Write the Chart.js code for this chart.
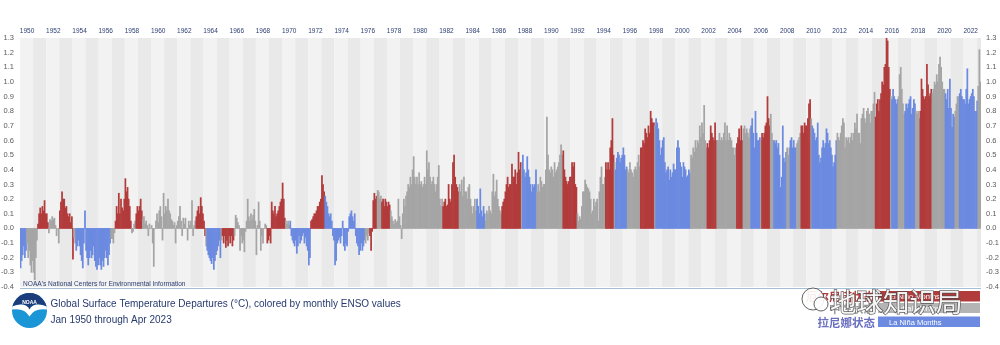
<!DOCTYPE html>
<html>
<head>
<meta charset="utf-8">
<title>Global Surface Temperature Departures</title>
<script src="https://cdn.jsdelivr.net/npm/chart.js@4.4.0/dist/chart.umd.min.js"></script>
<style>
  html, body { margin: 0; padding: 0; background: #fff; }
  canvas { display: block; }
</style>
</head>
<body>
<canvas id="chart" width="1000" height="345"></canvas>
<script>
// Monthly global surface temperature departures (°C), Jan 1950 - Apr 2023, one row per year
const firstYear = 1950;
const anomalies = [
  -0.27,-0.22,-0.18,-0.12,-0.2,-0.15,-0.1,-0.2,-0.15,-0.25,-0.3,-0.22,   // 1950
  -0.3,-0.35,-0.2,-0.08,0.03,0.1,0.14,0.1,0.15,0.12,0.19,0.1,           // 1951
  0.1,0.04,-0.03,0.06,0.05,0.08,0.06,0.07,0.02,-0.05,0.0,-0.1,          // 1952
  0.12,0.18,0.25,0.2,0.2,0.14,0.15,0.1,0.08,0.1,0.04,0.08,              // 1953
  -0.21,-0.06,-0.1,-0.15,-0.12,-0.08,-0.12,-0.18,-0.22,-0.27,-0.1,0.12, // 1954
  -0.15,-0.2,-0.25,-0.2,-0.15,-0.2,-0.18,-0.12,-0.22,-0.26,-0.28,-0.25, // 1955
  -0.2,-0.25,-0.28,-0.22,-0.26,-0.2,-0.15,-0.2,-0.25,-0.18,-0.1,-0.07,  // 1956
  -0.07,-0.1,-0.03,0.05,0.15,0.1,0.24,0.1,0.2,0.14,0.12,0.2,            // 1957
  0.34,0.25,0.28,0.2,0.15,0.05,-0.03,-0.02,0.03,0.05,0.1,0.15,          // 1958
  0.12,0.15,0.2,0.12,0.06,0.08,0.03,0.05,0.02,-0.05,0.03,0.0,           // 1959
  0.02,-0.1,-0.26,0.0,0.05,0.1,0.04,0.12,0.15,0.08,-0.08,0.24,          // 1960
  0.1,0.15,0.12,0.2,0.12,0.1,0.06,0.05,0.02,0.04,-0.1,0.02,             // 1961
  0.05,0.08,0.15,0.05,-0.05,0.07,0.03,0.07,0.0,-0.08,0.05,0.02,         // 1962
  0.05,0.19,-0.05,0.02,0.05,0.08,0.12,0.15,0.1,0.21,0.15,0.1,           // 1963
  0.05,-0.05,-0.12,-0.15,-0.18,-0.2,-0.22,-0.24,-0.2,-0.28,-0.22,-0.18, // 1964
  -0.15,-0.12,-0.08,-0.2,-0.08,-0.05,-0.1,-0.05,-0.13,-0.08,-0.12,-0.05,// 1965
  -0.1,-0.05,-0.12,-0.08,-0.05,0.09,0.07,0.04,0.02,-0.15,-0.05,-0.1,    // 1966
  -0.08,-0.16,-0.02,0.05,0.2,0.08,0.05,0.1,0.06,0.09,0.13,0.05,         // 1967
  -0.18,0.02,0.18,0.05,-0.15,-0.05,-0.1,0.0,0.03,0.02,-0.1,-0.08,       // 1968
  -0.05,-0.1,0.18,0.12,0.1,0.15,0.08,0.1,0.12,0.15,0.18,0.2,            // 1969
  0.31,0.2,0.07,0.05,0.03,0.05,0.02,0.05,-0.05,-0.08,-0.1,-0.12,        // 1970
  -0.08,-0.17,-0.12,-0.05,-0.1,-0.08,-0.05,-0.03,-0.1,-0.06,-0.12,-0.15,// 1971
  -0.25,-0.2,0.05,0.06,0.08,0.1,0.1,0.12,0.15,0.15,0.18,0.2,            // 1972
  0.36,0.3,0.25,0.22,0.18,0.15,0.1,0.08,0.1,0.05,-0.05,-0.08,           // 1973
  -0.25,-0.22,-0.1,-0.08,-0.06,-0.1,-0.05,0.05,-0.12,-0.15,-0.1,-0.12,  // 1974
  -0.02,0.08,0.1,0.12,0.08,0.05,0.1,-0.05,-0.1,-0.12,-0.18,-0.15,       // 1975
  -0.1,-0.15,-0.12,-0.08,-0.1,-0.05,-0.08,-0.03,-0.05,-0.15,-0.02,0.19, // 1976
  0.24,0.2,0.22,0.26,0.25,0.2,0.22,0.18,0.2,0.15,0.2,0.18,              // 1977
  0.15,0.18,0.16,0.12,0.08,0.05,0.03,0.06,0.04,0.05,0.2,0.08,           // 1978
  0.02,-0.07,0.1,0.2,0.15,0.22,0.25,0.3,0.28,0.35,0.3,0.4,              // 1979
  0.49,0.35,0.3,0.35,0.3,0.38,0.3,0.32,0.28,0.3,0.35,0.3,               // 1980
  0.53,0.4,0.45,0.35,0.3,0.32,0.35,0.3,0.25,0.3,0.35,0.43,              // 1981
  0.2,0.15,0.2,0.15,0.18,0.2,0.15,0.16,0.3,0.2,0.18,0.3,                // 1982
  0.45,0.5,0.35,0.3,0.28,0.25,0.3,0.25,0.33,0.22,0.35,0.25,             // 1983
  0.25,0.2,0.28,0.3,0.2,0.15,0.1,0.15,0.2,0.12,0.2,0.15,                // 1984
  0.1,0.27,0.12,0.08,0.15,0.1,0.05,0.12,0.1,0.15,0.12,0.1,              // 1985
  0.25,0.37,0.22,0.25,0.33,0.2,0.15,0.12,0.1,0.15,0.18,0.2,             // 1986
  0.25,0.3,0.35,0.28,0.3,0.3,0.44,0.35,0.35,0.4,0.3,0.38,               // 1987
  0.52,0.4,0.45,0.42,0.5,0.4,0.35,0.38,0.49,0.4,0.35,0.3,               // 1988
  0.25,0.3,0.28,0.3,0.4,0.25,0.3,0.25,0.35,0.32,0.28,0.3,               // 1989
  0.3,0.4,0.76,0.5,0.4,0.38,0.42,0.4,0.35,0.45,0.38,0.4,                // 1990
  0.42,0.45,0.5,0.57,0.5,0.53,0.4,0.35,0.32,0.3,0.32,0.35,              // 1991
  0.35,0.45,0.42,0.45,0.3,0.28,0.1,0.05,0.08,0.06,0.15,0.25,            // 1992
  0.25,0.33,0.3,0.28,0.27,0.25,0.2,0.1,0.12,0.2,0.15,0.18,              // 1993
  0.2,0.05,0.25,0.35,0.42,0.3,0.3,0.35,0.45,0.4,0.45,0.4,               // 1994
  0.55,0.6,0.75,0.5,0.45,0.4,0.48,0.52,0.5,0.45,0.48,0.5,               // 1995
  0.55,0.5,0.4,0.42,0.4,0.38,0.45,0.4,0.38,0.35,0.4,0.42,               // 1996
  0.4,0.45,0.5,0.42,0.55,0.55,0.6,0.58,0.68,0.65,0.62,0.7,              // 1997
  0.65,0.8,0.75,0.72,0.72,0.7,0.75,0.72,0.68,0.6,0.5,0.55,              // 1998
  0.6,0.62,0.45,0.38,0.4,0.42,0.33,0.4,0.35,0.38,0.44,0.4,              // 1999
  0.4,0.55,0.6,0.55,0.45,0.42,0.35,0.45,0.42,0.4,0.35,0.36,             // 2000
  0.4,0.38,0.5,0.48,0.55,0.52,0.6,0.55,0.6,0.58,0.7,0.62,               // 2001
  0.72,0.65,0.84,0.6,0.55,0.58,0.55,0.6,0.7,0.65,0.62,0.6,              // 2002
  0.72,0.6,0.6,0.6,0.65,0.6,0.62,0.6,0.65,0.72,0.6,0.7,                 // 2003
  0.6,0.65,0.62,0.6,0.55,0.55,0.5,0.55,0.58,0.62,0.68,0.6,              // 2004
  0.7,0.6,0.68,0.7,0.65,0.68,0.65,0.62,0.68,0.7,0.75,0.65,              // 2005
  0.55,0.8,0.65,0.6,0.6,0.62,0.6,0.65,0.62,0.65,0.7,0.72,               // 2006
  0.9,0.75,0.7,0.78,0.65,0.6,0.6,0.58,0.6,0.55,0.58,0.5,                // 2007
  0.28,0.35,0.7,0.48,0.45,0.52,0.55,0.5,0.55,0.6,0.62,0.55,             // 2008
  0.6,0.55,0.55,0.58,0.6,0.62,0.65,0.7,0.7,0.65,0.72,0.7,               // 2009
  0.7,0.75,0.85,0.88,0.75,0.7,0.68,0.65,0.6,0.62,0.72,0.5,              // 2010
  0.45,0.48,0.55,0.6,0.55,0.58,0.68,0.65,0.58,0.6,0.55,0.5,             // 2011
  0.42,0.45,0.5,0.6,0.65,0.62,0.6,0.65,0.7,0.75,0.72,0.55,              // 2012
  0.62,0.6,0.62,0.58,0.62,0.65,0.6,0.65,0.72,0.68,0.78,0.65,            // 2013
  0.65,0.58,0.75,0.78,0.82,0.75,0.72,0.8,0.82,0.78,0.72,0.8,            // 2014
  0.8,0.85,0.93,0.76,0.85,0.88,0.8,0.88,0.92,1.0,0.98,1.1,              // 2015
  1.12,1.3,1.28,1.1,0.95,0.9,0.88,0.95,0.9,0.88,0.85,0.88,              // 2016
  0.9,1.05,1.1,0.95,0.85,0.78,0.8,0.85,0.82,0.85,0.88,0.9,              // 2017
  0.78,0.82,0.88,0.85,0.8,0.78,0.8,0.75,0.8,1.02,0.95,0.9,              // 2018
  0.88,0.9,1.12,0.98,0.9,0.92,0.95,0.92,0.95,1.0,0.98,1.05,             // 2019
  1.0,1.12,1.17,1.1,1.0,0.95,0.95,0.92,0.88,0.95,0.82,1.02,             // 2020
  0.82,0.69,0.78,0.76,0.8,0.85,0.9,0.9,0.92,0.95,0.9,0.88,              // 2021
  0.88,0.85,0.95,1.09,0.85,0.88,0.9,0.92,0.95,0.9,0.8,0.8,              // 2022
  0.87,0.97,1.22,1.0                                                   // 2023
];

// ENSO state per month: E = El Niño, N = neutral, L = La Niña
const ensoPhase = [
  "LLLLLLNNNNNN", "NNNNEEEEEEEE", "EENNNNNNNNNN", "EEEEEEEEEEEE", "ENNLLLLLLLLL", // 1950-54
  "LLLLLLLLLLLL", "LLLLLLLLLLLN", "NNNEEEEEEEEE", "EEEEEENNNNEE", "EEEENNNNNNNN", // 1955-59
  "NNNNNNNNNNNN", "NNNNNNNNNNNN", "NNNNNNNNNNNN", "NNNNNEEEEEEE", "EENLLLLLLLLL", // 1960-64
  "LLLLNEEEEEEE", "EEEENNNNNNNN", "NNNNNNNNNNNN", "NNNNNNNNNNEE", "EEEEEEEEEEEE", // 1965-69
  "EEENNNNLLLLL", "LLLLLLLLLLLL", "LLEEEEEEEEEE", "EEELLLLLLLLL", "LLLLLLLLLLLL", // 1970-74
  "LLLLLLLLLLLL", "LLLLNNNNEEEE", "EEENNNNEEEEE", "EEENNNNNNNNN", "NNNNNNNNNNNN", // 1975-79
  "NNNNNNNNNNNN", "NNNNNNNNNNNN", "NNNEEEEEEEEE", "EEEEEENNNNNN", "NNNNNNNNNNLL", // 1980-84
  "LLLLLLNNNNNN", "NNNNNNNNNEEE", "EEEEEEEEEEEE", "EEENLLLLLLLL", "LLLLLNNNNNNN", // 1985-89
  "NNNNNNNNNNNN", "NNNNNEEEEEEE", "EEEEEENNNNNN", "NNNNNNNNNNNN", "NNNNNNNNEEEE", // 1990-94
  "EEEENLLLLLLL", "LLLLNNNNNNNN", "NNNNEEEEEEEE", "EEEEENLLLLLL", "LLLLLLLLLLLL", // 1995-99
  "LLLLLLLLLLLL", "LLNNNNNNNNNN", "NNNNNEEEEEEE", "EENNNNNNNNNN", "NNNNNNNNEEEE", // 2000-04
  "EENNNNNNNLLL", "LLLLLLNEEEEE", "EEENNNLLLLLL", "LLLLLLNNNLLL", "LLLNNNNEEEEE", // 2005-09
  "EEEENLLLLLLL", "LLLLLLLLLLLL", "LLLLNNNNNNNN", "NNNNNNNNNNNN", "NNNNNNNNNNNN", // 2010-14
  "NNNEEEEEEEEE", "EEEEENLLLLLL", "NNNNNNLLLLLL", "LLLLNNNNEEEE", "EEEEEEENNNNN", // 2015-19
  "NNNNNNNLLLLL", "LLLLNNNNLLLL", "LLLLLLLLLLLL", "LNNN"                          // 2020-23
];

const phaseColors = { E: '#b23b3b', N: '#a5a5a5', L: '#6b8ae0' };
const legendItems = [
  { zh: '厄尔尼诺状态', en: 'El Niño Months', color: '#b23b3b', text: '#b23b3b' },
  { zh: '中性状态', en: 'Neutral Months', color: '#b4b4b4', text: '#9a9a9a' },
  { zh: '拉尼娜状态', en: 'La Niña Months', color: '#6b8ae0', text: '#6a6fc0' }
];

const phases = ensoPhase.join('').split('');
const monthLabels = anomalies.map((v, i) => (firstYear + Math.floor(i / 12)) + '-' + String(i % 12 + 1).padStart(2, '0'));
const barColors = phases.map(p => phaseColors[p]);
const yearCount = Math.ceil(anomalies.length / 12);
const FONT = '"Liberation Sans", Arial, Helvetica, sans-serif';

// alternating year bands behind the bars
const yearBands = {
  id: 'yearBands',
  beforeDatasetsDraw(chart) {
    const { ctx, chartArea: a, scales: { x } } = chart;
    const step = x.getPixelForValue(1) - x.getPixelForValue(0);
    ctx.save();
    for (let y = 0; y < yearCount; y++) {
      const left = x.getPixelForValue(y * 12) - step / 2;
      const right = Math.min(x.getPixelForValue(y * 12 + 12) - step / 2, a.right);
      ctx.fillStyle = y % 2 === 0 ? '#f2f2f2' : '#e9e9e9';
      ctx.fillRect(left, a.top, right - left, a.bottom - a.top);
    }
    ctx.restore();
  }
};

function drawLogo(ctx, cx, cy, r) {
  ctx.save();
  ctx.beginPath();
  ctx.arc(cx, cy, r, 0, Math.PI * 2);
  ctx.clip();
  ctx.fillStyle = '#1a95d5';
  ctx.fillRect(cx - r, cy - r, r * 2, r * 2);
  ctx.fillStyle = '#1c3d7c';
  ctx.beginPath();
  ctx.moveTo(cx - r, cy - r);
  ctx.lineTo(cx + r, cy - r);
  ctx.lineTo(cx + r, cy - 4);
  ctx.quadraticCurveTo(cx + 4, cy - 9, cx, cy - 1);
  ctx.quadraticCurveTo(cx - 4, cy - 9, cx - r, cy - 4);
  ctx.closePath();
  ctx.fill();
  // gull
  ctx.fillStyle = '#ffffff';
  ctx.beginPath();
  ctx.moveTo(cx - r, cy - 4);
  ctx.quadraticCurveTo(cx - 4, cy - 9, cx, cy - 1);
  ctx.quadraticCurveTo(cx + 4, cy - 9, cx + r, cy - 4);
  ctx.lineTo(cx + r, cy - 1);
  ctx.quadraticCurveTo(cx + 5, cy - 3, cx, cy + 6);
  ctx.quadraticCurveTo(cx - 5, cy - 3, cx - r, cy - 1);
  ctx.closePath();
  ctx.fill();
  ctx.restore();
  ctx.fillStyle = '#ffffff';
  ctx.font = 'bold 5px ' + FONT;
  ctx.textAlign = 'center';
  ctx.fillText('NOAA', cx, cy - 7);
}

// credit line, titles, logo and legend under the plot
const footer = {
  id: 'footer',
  afterDraw(chart) {
    const { ctx, chartArea: a } = chart;
    ctx.save();
    ctx.textBaseline = 'alphabetic';
    ctx.textAlign = 'left';
    ctx.font = '6.6px ' + FONT;
    ctx.fillStyle = '#2e3f72';
    ctx.fillText("NOAA's National Centers for Environmental Information", a.left + 3, a.bottom - 1.5);

    ctx.strokeStyle = '#a4bfd6';
    ctx.lineWidth = 1;
    ctx.beginPath();
    ctx.moveTo(a.left, a.bottom + 1.5);
    ctx.lineTo(a.right, a.bottom + 1.5);
    ctx.stroke();

    ctx.fillStyle = '#263a6d';
    ctx.font = '10px ' + FONT;
    ctx.fillText('Global Surface Temperature Departures (°C), colored by monthly ENSO values', 50.5, 307);
    ctx.fillText('Jan ' + firstYear + ' through Apr 2023', 50.5, 322.5);

    drawLogo(ctx, 29.5, 310.5, 17.5);

    // legend rows
    const rows = [[291, 10.5], [303, 10], [316.5, 10.5]];
    legendItems.forEach((item, i) => {
      const [top, h] = rows[i];
      ctx.fillStyle = item.color;
      ctx.fillRect(878, top, 102, h);
      ctx.fillStyle = '#ffffff';
      ctx.font = '7.5px ' + FONT;
      ctx.textAlign = 'left';
      ctx.fillText(item.en, 889, top + h - 2.5);
      ctx.fillStyle = item.text;
      ctx.font = 'bold 11.5px "Noto Sans CJK SC", sans-serif';
      ctx.textAlign = 'right';
      ctx.fillText(item.zh, 875, top + h - 0.5);
    });

    // account watermark
    ctx.textAlign = 'left';
    ctx.strokeStyle = 'rgba(70,70,70,0.85)';
    ctx.fillStyle = 'rgba(255,255,255,0.9)';
    ctx.lineWidth = 1;
    ctx.beginPath();
    ctx.arc(813, 299, 11, 0, Math.PI * 2);
    ctx.fill();
    ctx.stroke();
    ctx.beginPath();
    ctx.arc(821, 304, 7, 0, Math.PI * 2);
    ctx.fill();
    ctx.stroke();
    ctx.font = '26.5px "Noto Sans CJK SC", sans-serif';
    ctx.lineWidth = 1.4;
    ctx.fillStyle = 'rgba(255,255,255,0.92)';
    ctx.strokeText('地球知识局', 830, 312);
    ctx.fillText('地球知识局', 830, 312);
    ctx.restore();
  }
};

const yTicks = {
  stepSize: 0.1,
  font: { size: 7.5, family: FONT },
  color: '#5a5a5a',
  callback: v => (Math.abs(v) < 1e-9 ? 0 : v).toFixed(1)
};

new Chart(document.getElementById('chart'), {
  type: 'bar',
  data: {
    labels: monthLabels,
    datasets: [{
      data: anomalies,
      backgroundColor: barColors,
      borderWidth: 0,
      barPercentage: 1,
      categoryPercentage: 1,
      yAxisID: 'y'
    }]
  },
  options: {
    responsive: false,
    animation: false,
    devicePixelRatio: 1,
    layout: { padding: { top: 24, bottom: 58, left: 0, right: 0 } },
    plugins: { legend: { display: false }, tooltip: { enabled: false } },
    scales: {
      x: {
        position: 'top',
        grid: { display: false, drawTicks: false },
        border: { display: false },
        ticks: {
          autoSkip: false,
          maxRotation: 0,
          minRotation: 0,
          padding: 3,
          font: { size: 6.5, family: FONT },
          color: '#2c3e73',
          callback: (v, i) => {
            const year = firstYear + Math.floor(i / 12);
            return (i % 12 === 6 && year % 2 === 0) ? String(year) : null;
          }
        },
        afterFit: s => { s.height = 14; }
      },
      y: {
        position: 'left',
        min: -0.4,
        max: 1.3,
        grid: { display: false, drawTicks: false },
        border: { display: false },
        ticks: Object.assign({ padding: 6 }, yTicks),
        afterFit: s => { s.width = 20; }
      },
      y2: {
        position: 'right',
        min: -0.4,
        max: 1.3,
        grid: { display: false, drawTicks: false },
        border: { display: false },
        ticks: Object.assign({ padding: 5 }, yTicks),
        afterFit: s => { s.width = 19; }
      }
    }
  },
  plugins: [yearBands, footer]
});
</script>
</body>
</html>
